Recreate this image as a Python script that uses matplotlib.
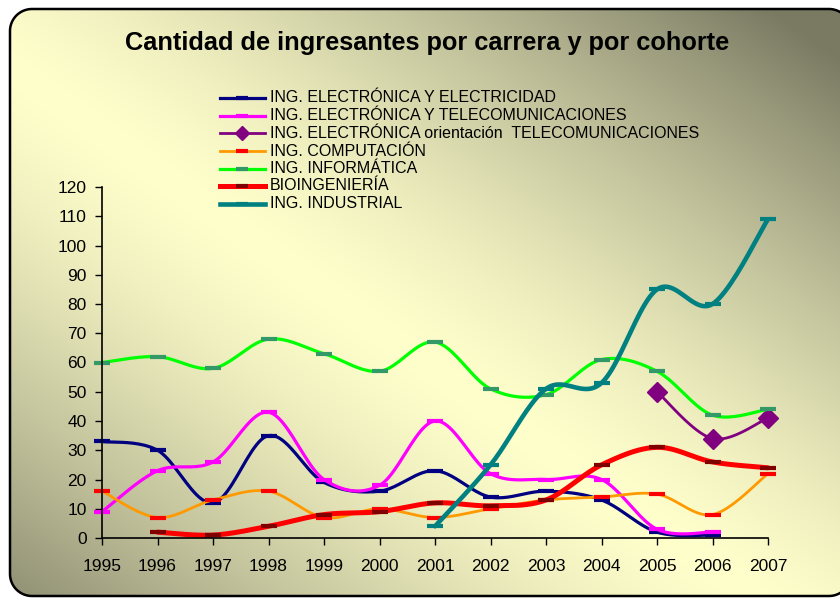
import numpy as np
import matplotlib
matplotlib.use("Agg")
import matplotlib.pyplot as plt
from matplotlib.patches import Polygon
from matplotlib.lines import Line2D

plt.rcParams['font.family'] = ['Liberation Sans', 'DejaVu Sans']

years = list(range(1995, 2008))

# values per series
elec_elec = [33, 30, 12, 35, 19, 16, 23, 14, 16, 13, 2, 1]              # 1995-2006
elec_tele = [9, 23, 26, 43, 20, 18, 40, 22, 20, 20, 3, 2]               # 1995-2006
elec_orient = [50, 34, 41]                                              # 2005-2007
computacion = [16, 7, 13, 16, 7, 10, 7, 10, 13, 14, 15, 8, 22]          # 1995-2007
informatica = [60, 62, 58, 68, 63, 57, 67, 51, 49, 61, 57, 42, 44]      # 1995-2007
bioing = [2, 1, 4, 8, 9, 12, 11, 13, 25, 31, 26, 24]                    # 1996-2007
industrial = [4, 25, 51, 53, 85, 80, 109]                               # 2001-2007

labels = ["ING. ELECTRÓNICA Y ELECTRICIDAD",
          "ING. ELECTRÓNICA Y TELECOMUNICACIONES",
          "ING. ELECTRÓNICA orientación  TELECOMUNICACIONES",
          "ING. COMPUTACIÓN",
          "ING. INFORMÁTICA",
          "BIOINGENIERÍA",
          "ING. INDUSTRIAL"]

series = [
    (elec_elec, 1995, '#000080', '#000080', '_', 2.3, 11),
    (elec_tele, 1995, '#FF00FF', '#FF00FF', '_', 2.3, 11),
    (elec_orient, 2005, '#800080', '#800080', 'D', 2.0, 10),
    (computacion, 1995, '#FF9900', '#FF0000', '_', 2.0, 11),
    (informatica, 1995, '#00FF00', '#339966', '_', 2.3, 11),
    (bioing, 1996, '#FF0000', '#800000', '_', 3.6, 11),
    (industrial, 2001, '#008080', '#008080', '_', 3.3, 11),
]


def smooth(xs, ys, n=24):
    pts = np.column_stack([xs, ys]).astype(float)
    out = []
    for i in range(len(pts) - 1):
        p0 = pts[max(i - 1, 0)]
        p1 = pts[i]
        p2 = pts[i + 1]
        p3 = pts[min(i + 2, len(pts) - 1)]
        c1 = p1 + (p2 - p0) / 6
        c2 = p2 - (p3 - p1) / 6
        t = np.linspace(0, 1, n)[:, None]
        seg = (1 - t) ** 3 * p1 + 3 * (1 - t) ** 2 * t * c1 + 3 * (1 - t) * t ** 2 * c2 + t ** 3 * p2
        out.append(seg if i == 0 else seg[1:])
    return np.vstack(out)


def arc(cx, cy, r, a0, a1, n=20):
    a = np.radians(np.linspace(a0, a1, n))
    return np.column_stack([cx + r * np.cos(a), cy - r * np.sin(a)])


W, H = 840, 599
fig = plt.figure(figsize=(8.4, 5.99), dpi=100)

# ---------------- background gradient with rounded frame ----------------
bg = fig.add_axes([0, 0, 1, 1])
bg.axis('off')
xx, yy = np.meshgrid(np.arange(W) / W, 1 - np.arange(H) / H)
s = (xx + yy) / 2
d = np.clip(np.abs(s - 0.45) / 0.5, 0, 1) ** 1.4
light = np.array([1.0, 1.0, 0.80])
dark = np.array([0.48, 0.48, 0.39])
img = light[None, None, :] + (dark - light)[None, None, :] * d[:, :, None]
im = bg.imshow(img, extent=[0, W, H, 0], zorder=1, aspect='auto')
bg.set_xlim(0, W)
bg.set_ylim(H, 0)

x0, y0, x1, y1, r = 10, 9, 851, 596, 22
outline = np.vstack([
    arc(x1 - r, y0 + r, r, 0, 90),
    arc(x0 + r, y0 + r, r, 90, 180),
    arc(x0 + r, y1 - r, r, 180, 270),
    arc(x1 - r, y1 - r, r, 270, 360),
])
clip_poly = Polygon(outline, closed=True, transform=bg.transData)
im.set_clip_path(clip_poly)
bg.plot(outline[:, 0], outline[:, 1], color='black', lw=1.8, zorder=3,
        solid_joinstyle='round')

# ---------------- main axes ----------------
ax = fig.add_axes([102 / W, 1 - 538 / H, (768 - 102) / W, (538 - 187) / H])
ax.set_facecolor('none')

for vals, start, lc, mc, mk, lw, ms in series:
    xs = np.arange(start, start + len(vals))
    curve = smooth(xs, vals)
    ax.plot(curve[:, 0], curve[:, 1], color=lc, lw=lw, solid_capstyle='round', clip_on=False)
    if mk == 'D':
        ax.plot(xs, vals, linestyle='none', marker='D', ms=ms, color=mc, clip_on=False)
    else:
        ax.plot(xs, vals, linestyle='none', marker='_', ms=ms, mew=3, color=mc, clip_on=False)

ax.set_xlim(1995, 2007)
ax.set_ylim(0, 120)
ax.set_xticks(years)
ax.set_yticks(range(0, 121, 10))
ax.tick_params(labelsize=12.5, length=5, width=1, direction='out')
ax.tick_params(axis='x', pad=10)
ax.tick_params(axis='y', pad=6)
for sp in ['top', 'right']:
    ax.spines[sp].set_visible(False)
for sp in ['left', 'bottom']:
    ax.spines[sp].set_linewidth(1.2)

fig.text(427 / W, 1 - 43 / H, "Cantidad de ingresantes por carrera y por cohorte",
         ha='center', va='center', fontsize=18.3, fontweight='bold')

# ---------------- legend (drawn by hand) ----------------
row_y = [98, 115.5, 133, 151, 168.5, 186, 204]
for (vals, start, lc, mc, mk, lw, ms), lab, yp in zip(series, labels, row_y):
    yf = 1 - yp / H
    fig.add_artist(Line2D([220 / W, 265 / W], [yf, yf], color=lc, lw=lw,
                          transform=fig.transFigure))
    if mk == 'D':
        fig.add_artist(Line2D([242.5 / W], [yf], marker='D', ms=7, color=mc,
                              transform=fig.transFigure))
    else:
        fig.add_artist(Line2D([242.5 / W], [yf], marker='_', ms=9, mew=3, color=mc,
                              transform=fig.transFigure))
    fig.text(270 / W, yf, lab, ha='left', va='center', fontsize=11.5)

fig.savefig("out.png", dpi=100)
